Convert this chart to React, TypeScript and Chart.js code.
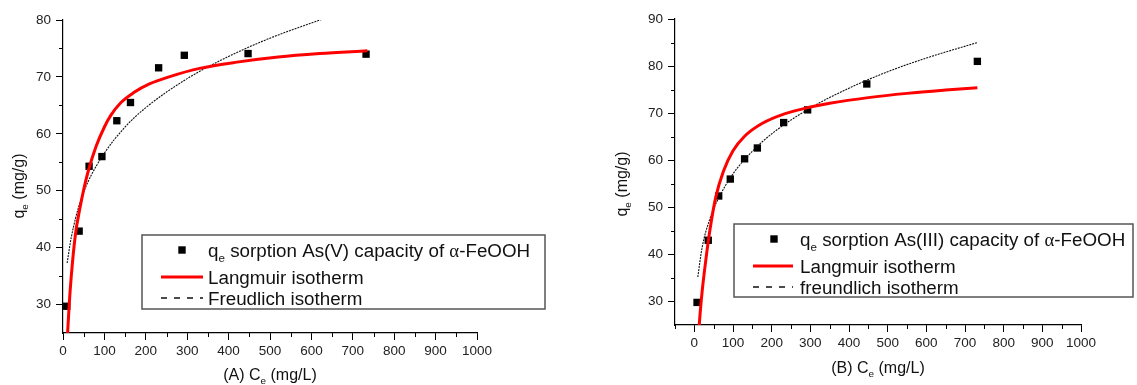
import React, { useEffect, useRef } from 'react';
import { Chart, registerables } from 'chart.js';

Chart.register(...registerables);

const SANS = "Arial, 'Liberation Sans', Helvetica, sans-serif";
const SERIF = "'Times New Roman', 'Liberation Serif', serif";

// ---------- Panel A : As(V) ----------
const ceA = [9, 39, 63, 94, 130, 163, 231, 293, 447, 732];
const qeA = [29.7, 42.9, 54.3, 56.0, 62.3, 65.5, 71.6, 73.8, 74.1, 74.0];
const langCeA = [10, 15, 20, 30, 40, 50, 60, 80, 100, 115, 140, 170, 210, 260, 330, 420, 520, 620, 735];
const langQA = [23.5, 30, 35, 42.3, 46.6, 50.2, 53.2, 57.8, 61.2, 63.2, 65.5, 67.2, 68.8, 70.1, 71.5, 72.6, 73.5, 74.1, 74.6];
const freuCeA = [10, 20, 40, 60, 100, 150, 200, 300, 400, 500, 632];
const freuQA = [37.3, 41.8, 47.7, 51.5, 56.6, 61.2, 64.6, 69.7, 73.6, 76.8, 80.3];

// ---------- Panel B : As(III) ----------
const ceB = [7, 36, 63, 93, 130, 163, 231, 293, 446, 732];
const qeB = [29.8, 43.0, 52.4, 56.0, 60.3, 62.6, 68.0, 70.7, 76.2, 81.0];
const langCeB = [10, 15, 20, 30, 40, 55, 75, 100, 130, 175, 235, 300, 350, 450, 550, 650, 732];
const langQB = [22, 27.5, 32, 39, 45, 52, 57.6, 62.0, 65.1, 67.8, 69.9, 71.3, 72.1, 73.3, 74.2, 74.9, 75.4];
const freuCeB = [9, 20, 40, 60, 100, 150, 200, 300, 400, 500, 600, 732];
const freuQB = [35.2, 41.4, 47.5, 51.5, 57.1, 61.9, 65.6, 71.1, 75.3, 78.8, 81.7, 85.0];

// ---------- ticks ----------
const xTickValues = [0, 100, 200, 300, 400, 500, 600, 700, 800, 900, 1000];
const xMinorA = [50, 150, 250, 350, 450, 550, 650, 750, 850, 950];
const xMinorB = [-50, 50, 150, 250, 350, 450, 550, 650, 750, 850, 950];
const yTicksA = [30, 40, 50, 60, 70, 80];
const yMinorA = [35, 45, 55, 65, 75];
const yTicksB = [30, 40, 50, 60, 70, 80, 90];
const yMinorB = [35, 45, 55, 65, 75, 85];

// ---------- texts ----------
const legendA = ['sorption As(V) capacity of ', 'Langmuir isotherm', 'Freudlich isotherm'];
const legendB = ['sorption As(III) capacity of ', 'Langmuir isotherm', 'freundlich isotherm'];

type Seg = { t: string; sub?: boolean; serif?: boolean };

function drawRich(ctx: CanvasRenderingContext2D, segs: Seg[], x: number, y: number, size: number, align: 'left' | 'center') {
  const subSize = size * 0.62;
  const widths = segs.map((s) => {
    ctx.font = `${s.sub ? subSize : size}px ${s.serif ? SERIF : SANS}`;
    return ctx.measureText(s.t).width;
  });
  const total = widths.reduce((a, b) => a + b, 0);
  let cx = align === 'center' ? x - total / 2 : x;
  ctx.textAlign = 'left';
  ctx.textBaseline = 'alphabetic';
  segs.forEach((s, i) => {
    ctx.font = `${s.sub ? subSize : size}px ${s.serif ? SERIF : SANS}`;
    ctx.fillText(s.t, cx, s.sub ? y + size * 0.3 : y);
    cx += widths[i];
  });
}

type PanelCfg = {
  width: number;
  ce: number[]; qe: number[];
  langCe: number[]; langQ: number[];
  freuCe: number[]; freuQ: number[];
  xMin: number; yMin: number; yMax: number;
  yTicks: number[]; yMinor: number[]; xMinor: number[];
  padTop: number; padRight: number; yWidth: number; xHeight: number;
  label: string; legend: string[];
  xTitleY: number; yTitleX: number; yTitleY: number;
  box: [number, number, number, number];
  rows: number[]; markerX: number; textX: number; lineX: [number, number];
};

function Panel({ cfg, left }: { cfg: PanelCfg; left: number }) {
  const ref = useRef<HTMLCanvasElement | null>(null);
  useEffect(() => {
    const canvas = ref.current;
    if (!canvas) return;
    const pts = (xs: number[], ys: number[]) => xs.map((x, i) => ({ x, y: ys[i] }));

    const decor = {
      id: 'decor',
      afterDraw(chart: any) {
        const ctx: CanvasRenderingContext2D = chart.ctx;
        const xs = chart.scales.x;
        const ys = chart.scales.y;
        const a = chart.chartArea;
        ctx.save();
        // minor ticks
        ctx.strokeStyle = '#000';
        ctx.lineWidth = 1;
        ctx.beginPath();
        cfg.xMinor.forEach((v) => {
          const px = Math.round(xs.getPixelForValue(v)) + 0.5;
          ctx.moveTo(px, a.bottom);
          ctx.lineTo(px, a.bottom + 4);
        });
        cfg.yMinor.forEach((v) => {
          const py = Math.round(ys.getPixelForValue(v)) + 0.5;
          ctx.moveTo(a.left - 4, py);
          ctx.lineTo(a.left, py);
        });
        ctx.stroke();

        ctx.fillStyle = '#111';
        // x title
        drawRich(ctx, [{ t: `(${cfg.label}) C` }, { t: 'e', sub: true }, { t: ' (mg/L)' }], (a.left + a.right) / 2, cfg.xTitleY + 5.5, 16, 'center');
        // y title
        ctx.save();
        ctx.translate(cfg.yTitleX, cfg.yTitleY);
        ctx.rotate(-Math.PI / 2);
        drawRich(ctx, [{ t: 'q' }, { t: 'e', sub: true }, { t: ' (mg/g)' }], 0, 5.5, 16, 'center');
        ctx.restore();

        // legend
        const [bx, by, bw, bh] = cfg.box;
        ctx.strokeStyle = '#555';
        ctx.lineWidth = 1.5;
        ctx.strokeRect(bx, by, bw, bh);
        const fs = 18.8;
        ctx.fillStyle = '#000';
        ctx.fillRect(cfg.markerX - 3.7, cfg.rows[0] - 3.7, 7.4, 7.4);
        ctx.fillStyle = '#111';
        drawRich(ctx, [{ t: 'q' }, { t: 'e', sub: true }, { t: ' ' + cfg.legend[0] }, { t: 'α', serif: true }, { t: '-FeOOH' }], cfg.textX, cfg.rows[0] + 6.5, fs, 'left');
        ctx.strokeStyle = '#ff0000';
        ctx.lineWidth = 3;
        ctx.beginPath();
        ctx.moveTo(cfg.lineX[0], cfg.rows[1]);
        ctx.lineTo(cfg.lineX[1], cfg.rows[1]);
        ctx.stroke();
        drawRich(ctx, [{ t: cfg.legend[1] }], cfg.textX, cfg.rows[1] + 6.5, fs, 'left');
        ctx.strokeStyle = '#111';
        ctx.lineWidth = 1.3;
        ctx.setLineDash([6, 7]);
        ctx.beginPath();
        ctx.moveTo(cfg.lineX[0], cfg.rows[2]);
        ctx.lineTo(cfg.lineX[1], cfg.rows[2]);
        ctx.stroke();
        ctx.setLineDash([]);
        drawRich(ctx, [{ t: cfg.legend[2] }], cfg.textX, cfg.rows[2] + 6.5, fs, 'left');
        ctx.restore();
      },
    };

    const tickFont = { family: SANS, size: 13.5 };
    const chart = new Chart(canvas, {
      type: 'scatter',
      data: {
        datasets: [
          {
            label: 'Langmuir',
            data: pts(cfg.langCe, cfg.langQ),
            showLine: true,
            borderColor: '#ff0000',
            borderWidth: 3,
            pointRadius: 0,
            cubicInterpolationMode: 'monotone',
            fill: false,
          },
          {
            label: 'Freundlich',
            data: pts(cfg.freuCe, cfg.freuQ),
            showLine: true,
            borderColor: '#111',
            borderWidth: 1.1,
            borderDash: [2, 1],
            pointRadius: 0,
            cubicInterpolationMode: 'monotone',
            fill: false,
          },
          {
            label: 'qe',
            data: pts(cfg.ce, cfg.qe),
            pointStyle: 'rect',
            pointRadius: 5.2,
            backgroundColor: '#000',
            borderWidth: 0,
          },
        ],
      } as any,
      options: {
        animation: false,
        responsive: false,
        devicePixelRatio: 1,
        events: [],
        layout: { padding: { top: cfg.padTop, right: cfg.padRight, left: 0, bottom: 0 } },
        plugins: { legend: { display: false }, tooltip: { enabled: false } },
        scales: {
          x: {
            type: 'linear',
            min: cfg.xMin,
            max: 1000,
            afterBuildTicks: (s: any) => { s.ticks = xTickValues.map((v) => ({ value: v })); },
            afterFit: (s: any) => { s.height = cfg.xHeight; },
            grid: { display: true, drawOnChartArea: false, drawTicks: true, tickLength: 7, color: '#000', lineWidth: 1 },
            border: { display: true, color: '#000', width: 1.2 },
            ticks: { font: tickFont, color: '#222', padding: 3, maxRotation: 0, autoSkip: false, callback: (v: any) => String(v) },
          },
          y: {
            type: 'linear',
            min: cfg.yMin,
            max: cfg.yMax,
            afterBuildTicks: (s: any) => { s.ticks = cfg.yTicks.map((v) => ({ value: v })); },
            afterFit: (s: any) => { s.width = cfg.yWidth; },
            grid: { display: true, drawOnChartArea: false, drawTicks: true, tickLength: 7, color: '#000', lineWidth: 1 },
            border: { display: true, color: '#000', width: 1.2 },
            ticks: { font: tickFont, color: '#222', padding: 5, autoSkip: false, callback: (v: any) => String(v) },
          },
        },
      } as any,
      plugins: [decor],
    });
    return () => chart.destroy();
  }, [cfg]);
  return (
    <canvas
      ref={ref}
      width={cfg.width}
      height={385}
      style={{ position: 'absolute', left, top: 0, width: cfg.width, height: 385 }}
    />
  );
}

const cfgA: PanelCfg = {
  width: 568,
  ce: ceA, qe: qeA, langCe: langCeA, langQ: langQA, freuCe: freuCeA, freuQ: freuQA,
  xMin: 0, yMin: 25, yMax: 80,
  yTicks: yTicksA, yMinor: yMinorA, xMinor: xMinorA,
  padTop: 20, padRight: 91, yWidth: 63, xHeight: 52,
  label: 'A', legend: legendA,
  xTitleY: 374, yTitleX: 18, yTitleY: 186,
  box: [142, 235, 403, 74],
  rows: [250, 277, 298], markerX: 182, textX: 208, lineX: [161, 203],
};

const cfgB: PanelCfg = {
  width: 569,
  ce: ceB, qe: qeB, langCe: langCeB, langQ: langQB, freuCe: freuCeB, freuQ: freuQB,
  xMin: -50, yMin: 25, yMax: 90,
  yTicks: yTicksB, yMinor: yMinorB, xMinor: xMinorB,
  padTop: 19, padRight: 56, yWidth: 107, xHeight: 60,
  label: 'B', legend: legendB,
  xTitleY: 367, yTitleX: 53, yTitleY: 184,
  box: [166, 224, 399, 73],
  rows: [239, 266, 287], markerX: 206, textX: 232, lineX: [185, 225],
};

export default function App() {
  return (
    <div style={{ position: 'fixed', left: 0, top: 0, width: 1137, height: 385, background: '#fff', overflow: 'hidden' }}>
      <Panel cfg={cfgA} left={0} />
      <Panel cfg={cfgB} left={568} />
    </div>
  );
}
